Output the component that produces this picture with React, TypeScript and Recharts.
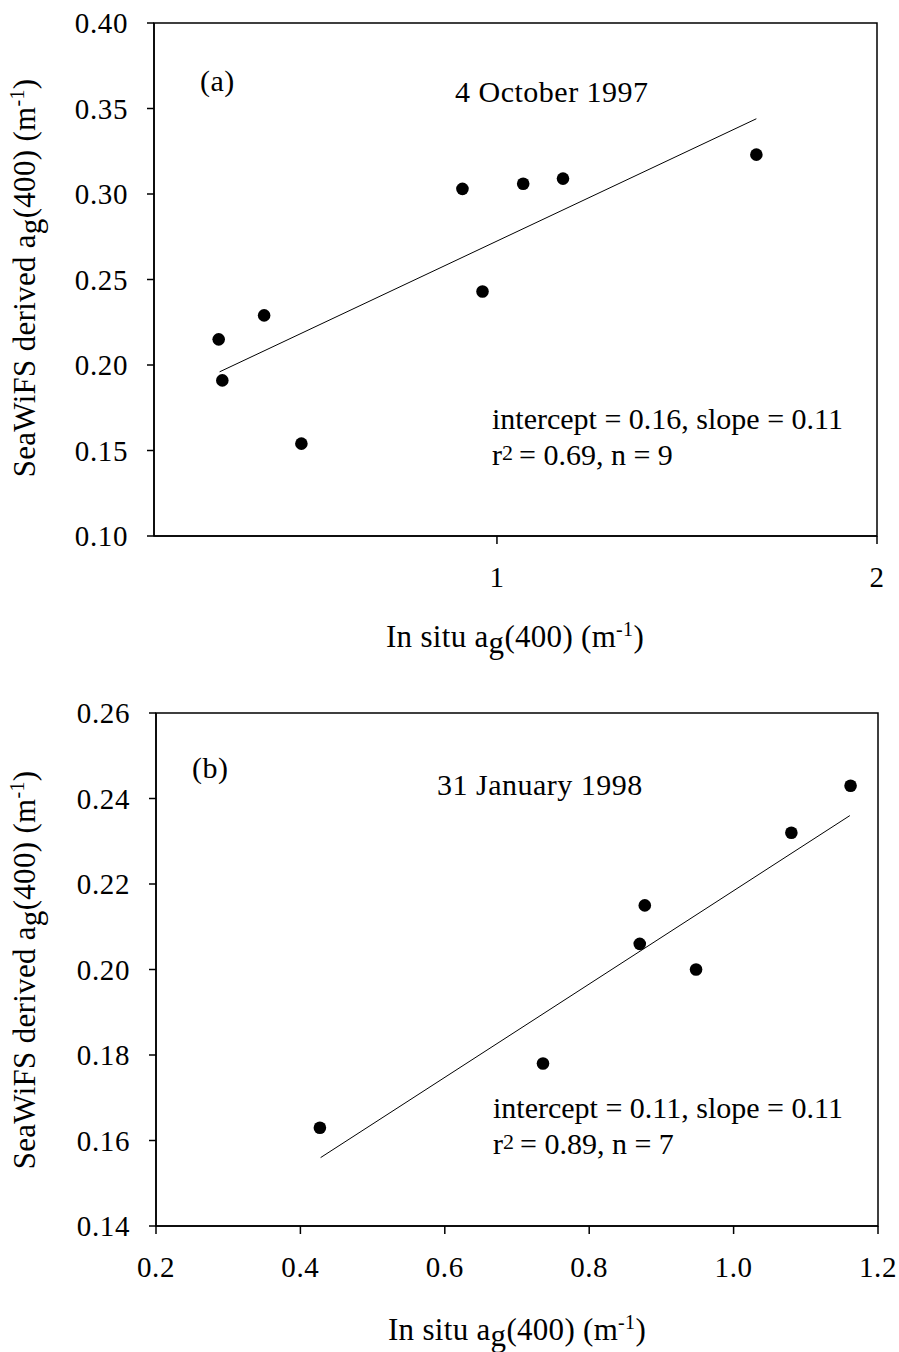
import React from "react";
import {
  ReferenceArea,
  Scatter,
  ScatterChart,
  XAxis,
  YAxis,
} from "recharts";

// panel (a): 4 October 1997, log x axis
const octInSitu = [0.602, 0.606, 0.654, 0.7, 0.939, 0.974, 1.049, 1.128, 1.605];
const octSeaWiFS = [0.215, 0.191, 0.229, 0.154, 0.303, 0.243, 0.306, 0.309, 0.323];
const octFitX = [0.603, 1.605];
const octFitY = [0.196, 0.344];
const octXTicks = [1, 2];
const octYTicks = [0.1, 0.15, 0.2, 0.25, 0.3, 0.35, 0.4];

// panel (b): 31 January 1998
const janInSitu = [0.427, 0.736, 0.87, 0.877, 0.948, 1.08, 1.162];
const janSeaWiFS = [0.163, 0.178, 0.206, 0.215, 0.2, 0.232, 0.243];
const janFitX = [0.428, 1.161];
const janFitY = [0.156, 0.236];
const janXTicks = [0.2, 0.4, 0.6, 0.8, 1.0, 1.2];
const janYTicks = [0.14, 0.16, 0.18, 0.2, 0.22, 0.24, 0.26];

const FONT = '"Liberation Serif", "Times New Roman", serif';

const toPoints = (xs: number[], ys: number[]) => xs.map((x, i) => ({ x, y: ys[i] }));

const Dot = (props: any) => <circle cx={props.cx} cy={props.cy} r={6.3} fill="#000" />;
const NoDot = () => <g />;

const tickStyle = { fontFamily: FONT, fontSize: 29, fill: "#000", letterSpacing: 0.6 };
const axisLine = { stroke: "#000", strokeWidth: 1.5 };

type PanelProps = {
  points: { x: number; y: number }[];
  fit: { x: number; y: number }[];
  xDomain: [number, number];
  yDomain: [number, number];
  xTicks: number[];
  yTicks: number[];
  logX?: boolean;
  xFmt: (v: number) => string;
  margin: { top: number; right: number; bottom: number; left: number };
  height: number;
};

function Panel({ points, fit, xDomain, yDomain, xTicks, yTicks, logX, xFmt, margin, height }: PanelProps) {
  return (
    <ScatterChart width={899} height={height} margin={margin}>
      <XAxis
        dataKey="x"
        type="number"
        scale={logX ? "log" : "linear"}
        domain={xDomain}
        allowDataOverflow
        ticks={xTicks}
        tickFormatter={xFmt}
        tick={tickStyle}
        tickSize={8}
        tickMargin={22}
        axisLine={axisLine}
        tickLine={axisLine}
        height={40}
      />
      <YAxis
        dataKey="y"
        type="number"
        domain={yDomain}
        allowDataOverflow
        ticks={yTicks}
        tickFormatter={(v: number) => v.toFixed(2)}
        tick={tickStyle}
        tickSize={7}
        tickMargin={19}
        axisLine={axisLine}
        tickLine={axisLine}
        width={60}
      />
      <ReferenceArea
        x1={xDomain[0]}
        x2={xDomain[1]}
        y1={yDomain[0]}
        y2={yDomain[1]}
        fill="none"
        fillOpacity={0}
        stroke="#000"
        strokeWidth={1.5}
        ifOverflow="visible"
      />
      <Scatter data={fit} line={{ stroke: "#000", strokeWidth: 1 }} shape={NoDot} isAnimationActive={false} />
      <Scatter data={points} shape={Dot} isAnimationActive={false} />
    </ScatterChart>
  );
}

function YTitle({ cy }: { cy: number }) {
  return (
    <text
      x={35}
      y={cy}
      transform={`rotate(-90, 35, ${cy})`}
      textAnchor="middle"
      fontFamily={FONT}
      fontSize={31}
      letterSpacing={0.3}
    >
      SeaWiFS derived a
      <tspan dy={6}>g</tspan>
      <tspan dy={-6}>(400) (m</tspan>
      <tspan dy={-11} fontSize={20}>-1</tspan>
      <tspan dy={11}>)</tspan>
    </text>
  );
}

function XTitle({ cx, y }: { cx: number; y: number }) {
  return (
    <text x={cx} y={y} textAnchor="middle" fontFamily={FONT} fontSize={31} letterSpacing={0.3}>
      In situ a
      <tspan dy={6}>g</tspan>
      <tspan dy={-6}>(400) (m</tspan>
      <tspan dy={-11} fontSize={20}>-1</tspan>
      <tspan dy={11}>)</tspan>
    </text>
  );
}

function Stats({ x, y, intercept, slope, r2, n }: { x: number; y: number; intercept: string; slope: string; r2: string; n: number }) {
  return (
    <g fontFamily={FONT} fontSize={30}>
      <text x={x} y={y}>{`intercept = ${intercept}, slope = ${slope}`}</text>
      <text x={x} y={y + 36}>
        r<tspan dy={-5} fontSize={22}>2</tspan>
        <tspan dy={5} dx={6}>{`= ${r2}, n = ${n}`}</tspan>
      </text>
    </g>
  );
}

export default function App() {
  return (
    <div style={{ position: "absolute", left: 0, top: 0, width: 899, height: 1352, background: "#fff" }}>
      <div style={{ position: "absolute", left: 0, top: 0 }}>
        <Panel
          points={toPoints(octInSitu, octSeaWiFS)}
          fit={toPoints(octFitX, octFitY)}
          xDomain={[0.535, 2]}
          yDomain={[0.1, 0.4]}
          xTicks={octXTicks}
          yTicks={octYTicks}
          logX
          xFmt={(v) => String(v)}
          margin={{ top: 23, right: 22, bottom: 104, left: 94 }}
          height={680}
        />
      </div>
      <div style={{ position: "absolute", left: 0, top: 680 }}>
        <Panel
          points={toPoints(janInSitu, janSeaWiFS)}
          fit={toPoints(janFitX, janFitY)}
          xDomain={[0.2, 1.2]}
          yDomain={[0.14, 0.26]}
          xTicks={janXTicks}
          yTicks={janYTicks}
          xFmt={(v) => v.toFixed(1)}
          margin={{ top: 33, right: 21, bottom: 86, left: 96 }}
          height={672}
        />
      </div>
      <svg
        width={899}
        height={1352}
        style={{ position: "absolute", left: 0, top: 0, pointerEvents: "none" }}
      >
        <g fontFamily={FONT} fontSize={30} letterSpacing={0.5}>
          <text x={200} y={91}>(a)</text>
          <text x={455} y={102}>4 October 1997</text>
          <text x={192} y={778}>(b)</text>
          <text x={437} y={795}>31 January 1998</text>
        </g>
        <Stats x={492} y={429} intercept="0.16" slope="0.11" r2="0.69" n={9} />
        <Stats x={493} y={1118} intercept="0.11" slope="0.11" r2="0.89" n={7} />
        <YTitle cy={278} />
        <YTitle cy={970} />
        <XTitle cx={515} y={647} />
        <XTitle cx={517} y={1340} />
      </svg>
    </div>
  );
}
